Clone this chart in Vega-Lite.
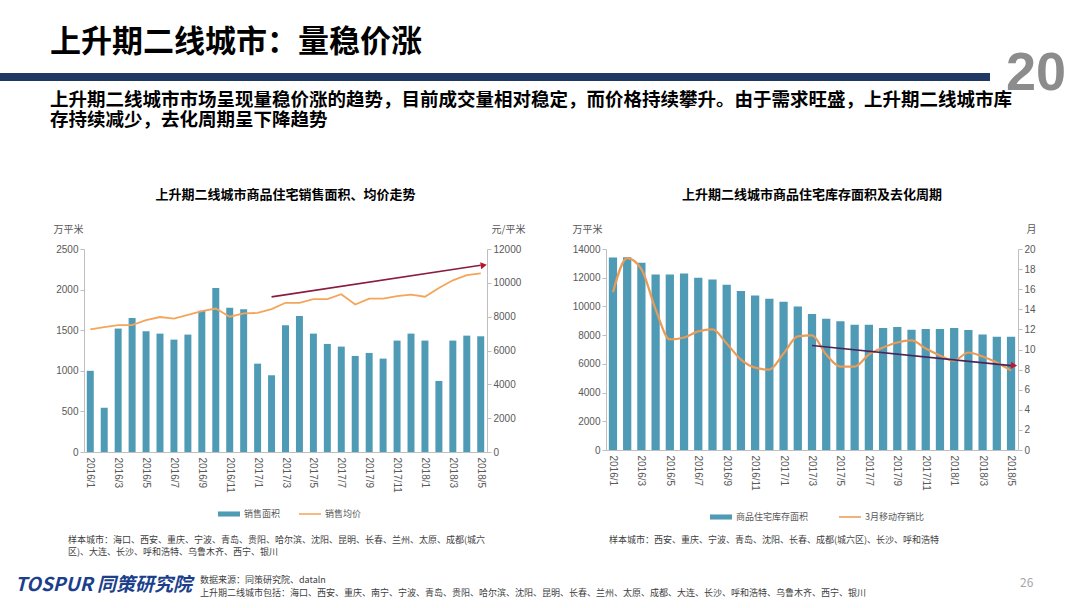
{
 "$schema": "https://vega.github.io/schema/vega-lite/v6.json",
 "background": "white",
 "padding": {"left": 0, "top": 27, "right": 0, "bottom": 0},
 "config": {
  "font": "Noto Sans CJK SC",
  "view": {"stroke": null},
  "axis": {"grid": false, "domainColor": "#bfbfbf", "tickColor": "#bfbfbf", "tickSize": 4, "labelColor": "#595959", "labelFontSize": 10, "labelFont": "Liberation Sans", "labelOverlap": false, "titleColor": "#595959", "titleFontSize": 10, "titleFontWeight": "normal", "titleFont": "Noto Sans CJK SC"},
  "legend": {"labelColor": "#595959", "labelFontSize": 9, "labelFont": "Noto Sans CJK SC"},
  "title": {"color": "#000000", "fontWeight": "bold", "font": "Noto Sans CJK SC"}
 },
 "spacing": -10,
 "vconcat": [
  {
   "spacing": 15,
   "hconcat": [
    {
     "title": {"text": "上升期二线城市：量稳价涨", "anchor": "start", "dx": 50, "fontSize": 31, "offset": 14},
     "width": 990, "height": 8,
     "view": {"fill": "#203864", "stroke": null},
     "data": {"values": []},
     "mark": "point"
    },
    {
     "title": {"text": "20", "anchor": "middle", "fontSize": 54, "fontWeight": "bold", "color": "#8c8c8c", "font": "Liberation Sans", "offset": -28},
     "width": 60, "height": 8,
     "data": {"values": []},
     "mark": "point"
    }
   ]
  },
  {
   "title": {"text": ["上升期二线城市市场呈现量稳价涨的趋势，目前成交量相对稳定，而价格持续攀升。由于需求旺盛，上升期二线城市库", "存持续减少，去化周期呈下降趋势"], "anchor": "start", "dx": 50, "fontSize": 18.5, "lineHeight": 19.5, "offset": 60},
   "spacing": 47,
   "resolve": {"scale": {"color": "independent", "x": "independent", "y": "independent"}, "legend": {"color": "independent"}},
   "hconcat": [
    {"width": 6, "height": 10, "data": {"values": []}, "mark": "point"},
    {
     "title": {"text": ["样本城市：海口、西安、重庆、宁波、青岛、贵阳、哈尔滨、沈阳、昆明、长春、兰州、太原、成都(城六", "区)、大连、长沙、呼和浩特、乌鲁木齐、西宁、银川"], "orient": "bottom", "anchor": "start", "dx": 15, "fontSize": 9, "fontWeight": "normal", "color": "#404040", "lineHeight": 12, "offset": 17},
     "resolve": {"scale": {"color": "independent"}, "legend": {"color": "independent"}},
     "vconcat": [
      {
       "title": {"text": "上升期二线城市商品住宅销售面积、均价走势", "fontSize": 13, "offset": 22},
       "width": 403, "height": 203,
       "data": {"values": [
        {"m": "2016/1", "area": 1000, "price": 7250},
        {"m": "2016/2", "area": 545, "price": 7380},
        {"m": "2016/3", "area": 1520, "price": 7500},
        {"m": "2016/4", "area": 1651, "price": 7500},
        {"m": "2016/5", "area": 1487, "price": 7800},
        {"m": "2016/6", "area": 1458, "price": 7980},
        {"m": "2016/7", "area": 1384, "price": 7880},
        {"m": "2016/8", "area": 1446, "price": 8100},
        {"m": "2016/9", "area": 1741, "price": 8330},
        {"m": "2016/10", "area": 2020, "price": 8480},
        {"m": "2016/11", "area": 1778, "price": 8000},
        {"m": "2016/12", "area": 1758, "price": 8200},
        {"m": "2017/1", "area": 1088, "price": 8220},
        {"m": "2017/2", "area": 945, "price": 8450},
        {"m": "2017/3", "area": 1561, "price": 8820},
        {"m": "2017/4", "area": 1676, "price": 8820},
        {"m": "2017/5", "area": 1458, "price": 9040},
        {"m": "2017/6", "area": 1331, "price": 9040},
        {"m": "2017/7", "area": 1298, "price": 9330},
        {"m": "2017/8", "area": 1183, "price": 8720},
        {"m": "2017/9", "area": 1220, "price": 9070},
        {"m": "2017/10", "area": 1150, "price": 9070},
        {"m": "2017/11", "area": 1372, "price": 9220},
        {"m": "2017/12", "area": 1458, "price": 9300},
        {"m": "2018/1", "area": 1372, "price": 9180},
        {"m": "2018/2", "area": 875, "price": 9700},
        {"m": "2018/3", "area": 1372, "price": 10150},
        {"m": "2018/4", "area": 1433, "price": 10450},
        {"m": "2018/5", "area": 1425, "price": 10560}
       ]},
       "encoding": {
        "x": {"field": "m", "type": "ordinal", "sort": null,
         "scale": {"domain": ["2016/1","2016/2","2016/3","2016/4","2016/5","2016/6","2016/7","2016/8","2016/9","2016/10","2016/11","2016/12","2017/1","2017/2","2017/3","2017/4","2017/5","2017/6","2017/7","2017/8","2017/9","2017/10","2017/11","2017/12","2018/1","2018/2","2018/3","2018/4","2018/5"], "paddingInner": 0.5, "paddingOuter": 0.2},
         "axis": {"title": null, "labelAngle": 90, "labelAlign": "left", "labelBaseline": "middle", "ticks": false, "labelPadding": 5,
          "values": ["2016/1","2016/3","2016/5","2016/7","2016/9","2016/11","2017/1","2017/3","2017/5","2017/7","2017/9","2017/11","2018/1","2018/3","2018/5"]}}
       },
       "layer": [
        {
         "mark": {"type": "bar"},
         "encoding": {
          "y": {"field": "area", "type": "quantitative", "scale": {"domain": [0, 2500]},
           "axis": {"values": [0, 500, 1000, 1500, 2000, 2500], "format": "d", "title": "万平米", "titleAngle": 0, "titleX": -16, "titleY": -20, "titleAlign": "center", "titleBaseline": "middle"}},
          "color": {"datum": "销售面积", "type": "nominal",
           "scale": {"domain": ["销售面积", "销售均价"], "range": ["#4f9ab5", "#f5a55a"]},
           "legend": {"title": null, "orient": "none", "legendX": 134, "legendY": 254, "direction": "horizontal", "padding": 0, "symbolSize": 484, "columnPadding": 18, "labelOffset": 4,
            "encode": {"symbols": {"update": {
             "shape": {"signal": "datum.value === '销售面积' ? 'M-1,-0.23H1V0.23H-1Z' : 'M-1,-0.07H1V0.07H-1Z'"},
             "fill": {"signal": "datum.value === '销售面积' ? '#4f9ab5' : '#f5a55a'"},
             "stroke": {"value": "transparent"}, "strokeWidth": {"value": 0}, "opacity": {"value": 1}}}}}}
         }
        },
        {
         "layer": [
          {
           "mark": {"type": "line", "strokeWidth": 1.8},
           "encoding": {
            "y": {"field": "price", "type": "quantitative", "scale": {"domain": [0, 12000]},
             "axis": {"orient": "right", "values": [0, 2000, 4000, 6000, 8000, 10000, 12000], "format": "d", "title": "元/平米", "titleAngle": 0, "titleX": 21, "titleY": -20, "titleAlign": "center", "titleBaseline": "middle"}},
            "color": {"datum": "销售均价", "type": "nominal"}
           }
          },
          {
           "data": {"values": [{"ax": "2017/2", "ay": 9172, "bx": "2018/5", "by": 11041}]},
           "mark": {"type": "rule", "color": "#8a1c40", "strokeWidth": 1.6},
           "encoding": {"x": {"field": "ax", "type": "ordinal", "sort": null}, "x2": {"field": "bx"},
            "y": {"field": "ay", "type": "quantitative", "axis": {"orient": "right", "values": [0, 2000, 4000, 6000, 8000, 10000, 12000], "format": "d", "title": "元/平米", "titleAngle": 0, "titleX": 21, "titleY": -20, "titleAlign": "center", "titleBaseline": "middle"}},
            "y2": {"field": "by"}}
          },
          {
           "data": {"values": [{"ax": "2017/2", "ay": 9172, "bx": "2018/5", "by": 11041}]},
           "mark": {"type": "point", "shape": "triangle-right", "filled": true, "color": "#b3152b", "size": 50, "angle": -8, "opacity": 1, "xOffset": 3},
           "encoding": {"x": {"field": "bx", "type": "ordinal", "sort": null},
            "y": {"field": "by", "type": "quantitative", "axis": {"orient": "right", "values": [0, 2000, 4000, 6000, 8000, 10000, 12000], "format": "d", "title": "元/平米", "titleAngle": 0, "titleX": 21, "titleY": -20, "titleAlign": "center", "titleBaseline": "middle"}}}
          }
         ]
        }
       ],
       "resolve": {"scale": {"y": "independent"}}
      }
     ]
    },
    {
     "title": {"text": "样本城市：西安、重庆、宁波、青岛、沈阳、长春、成都(城六区)、长沙、呼和浩特", "orient": "bottom", "anchor": "middle", "dx": -30, "fontSize": 9, "fontWeight": "normal", "color": "#404040", "offset": 14},
     "resolve": {"scale": {"color": "independent"}, "legend": {"color": "independent"}},
     "vconcat": [
      {
       "title": {"text": "上升期二线城市商品住宅库存面积及去化周期", "fontSize": 13, "offset": 22},
       "width": 412, "height": 201,
       "data": {"values": [
        {"m": "2016/1", "stock": 13410, "ratio": 15.7},
        {"m": "2016/2", "stock": 13420, "ratio": 19.1},
        {"m": "2016/3", "stock": 13040, "ratio": 18.0},
        {"m": "2016/4", "stock": 12220, "ratio": 14.0},
        {"m": "2016/5", "stock": 12220, "ratio": 11.0},
        {"m": "2016/6", "stock": 12290, "ratio": 11.2},
        {"m": "2016/7", "stock": 11990, "ratio": 11.8},
        {"m": "2016/8", "stock": 11880, "ratio": 12.0},
        {"m": "2016/9", "stock": 11510, "ratio": 10.6},
        {"m": "2016/10", "stock": 11080, "ratio": 9.0},
        {"m": "2016/11", "stock": 10760, "ratio": 8.2},
        {"m": "2016/12", "stock": 10530, "ratio": 8.0},
        {"m": "2017/1", "stock": 10330, "ratio": 9.6},
        {"m": "2017/2", "stock": 10000, "ratio": 11.3},
        {"m": "2017/3", "stock": 9480, "ratio": 11.4},
        {"m": "2017/4", "stock": 9140, "ratio": 9.5},
        {"m": "2017/5", "stock": 8960, "ratio": 8.3},
        {"m": "2017/6", "stock": 8730, "ratio": 8.3},
        {"m": "2017/7", "stock": 8730, "ratio": 9.5},
        {"m": "2017/8", "stock": 8500, "ratio": 10.2},
        {"m": "2017/9", "stock": 8570, "ratio": 10.7},
        {"m": "2017/10", "stock": 8380, "ratio": 10.9},
        {"m": "2017/11", "stock": 8430, "ratio": 10.1},
        {"m": "2017/12", "stock": 8430, "ratio": 9.4},
        {"m": "2018/1", "stock": 8500, "ratio": 8.9},
        {"m": "2018/2", "stock": 8360, "ratio": 9.7},
        {"m": "2018/3", "stock": 8040, "ratio": 9.3},
        {"m": "2018/4", "stock": 7880, "ratio": 8.7},
        {"m": "2018/5", "stock": 7880, "ratio": 7.9}
       ]},
       "encoding": {
        "x": {"field": "m", "type": "ordinal", "sort": null,
         "scale": {"domain": ["2016/1","2016/2","2016/3","2016/4","2016/5","2016/6","2016/7","2016/8","2016/9","2016/10","2016/11","2016/12","2017/1","2017/2","2017/3","2017/4","2017/5","2017/6","2017/7","2017/8","2017/9","2017/10","2017/11","2017/12","2018/1","2018/2","2018/3","2018/4","2018/5"], "paddingInner": 0.42, "paddingOuter": 0.2},
         "axis": {"title": null, "labelAngle": 90, "labelAlign": "left", "labelBaseline": "middle", "ticks": false, "labelPadding": 5,
          "values": ["2016/1","2016/3","2016/5","2016/7","2016/9","2016/11","2017/1","2017/3","2017/5","2017/7","2017/9","2017/11","2018/1","2018/3","2018/5"]}}
       },
       "layer": [
        {
         "mark": {"type": "bar"},
         "encoding": {
          "y": {"field": "stock", "type": "quantitative", "scale": {"domain": [0, 14000]},
           "axis": {"values": [0, 2000, 4000, 6000, 8000, 10000, 12000, 14000], "format": "d", "title": "万平米", "titleAngle": 0, "titleX": -19, "titleY": -20, "titleAlign": "center", "titleBaseline": "middle"}},
          "color": {"datum": "商品住宅库存面积", "type": "nominal",
           "scale": {"domain": ["商品住宅库存面积", "3月移动存销比"], "range": ["#4f9ab5", "#e99b58"]},
           "legend": {"title": null, "orient": "none", "legendX": 104, "legendY": 257, "direction": "horizontal", "padding": 0, "symbolSize": 484, "columnPadding": 30, "labelOffset": 4,
            "encode": {"symbols": {"update": {
             "shape": {"signal": "datum.value === '商品住宅库存面积' ? 'M-1,-0.23H1V0.23H-1Z' : 'M-1,-0.07H1V0.07H-1Z'"},
             "fill": {"signal": "datum.value === '商品住宅库存面积' ? '#4f9ab5' : '#e99b58'"},
             "stroke": {"value": "transparent"}, "strokeWidth": {"value": 0}, "opacity": {"value": 1}}}}}}
         }
        },
        {
         "layer": [
          {
           "mark": {"type": "line", "strokeWidth": 2.2, "interpolate": "monotone"},
           "encoding": {
            "y": {"field": "ratio", "type": "quantitative", "scale": {"domain": [0, 20]},
             "axis": {"orient": "right", "values": [0, 2, 4, 6, 8, 10, 12, 14, 16, 18, 20], "title": "月", "titleAngle": 0, "titleX": 13, "titleY": -20, "titleAlign": "center", "titleBaseline": "middle"}},
            "color": {"datum": "3月移动存销比", "type": "nominal"}
           }
          },
          {
           "data": {"values": [{"ax": "2017/3", "ay": 10.4, "bx": "2018/5", "by": 8.4}]},
           "mark": {"type": "rule", "color": "#4a2358", "strokeWidth": 1.6},
           "encoding": {"x": {"field": "ax", "type": "ordinal", "sort": null}, "x2": {"field": "bx"},
            "y": {"field": "ay", "type": "quantitative", "axis": {"orient": "right", "values": [0, 2, 4, 6, 8, 10, 12, 14, 16, 18, 20], "title": "月", "titleAngle": 0, "titleX": 13, "titleY": -20, "titleAlign": "center", "titleBaseline": "middle"}},
            "y2": {"field": "by"}}
          },
          {
           "data": {"values": [{"ax": "2017/3", "ay": 10.4, "bx": "2018/5", "by": 8.4}]},
           "mark": {"type": "point", "shape": "triangle-right", "filled": true, "color": "#c0182a", "size": 50, "angle": 5, "opacity": 1, "xOffset": 3},
           "encoding": {"x": {"field": "bx", "type": "ordinal", "sort": null},
            "y": {"field": "by", "type": "quantitative", "axis": {"orient": "right", "values": [0, 2, 4, 6, 8, 10, 12, 14, 16, 18, 20], "title": "月", "titleAngle": 0, "titleX": 13, "titleY": -20, "titleAlign": "center", "titleBaseline": "middle"}}}
          }
         ]
        }
       ],
       "resolve": {"scale": {"y": "independent"}}
      }
     ]
    }
   ]
  },
  {
   "spacing": 0,
   "hconcat": [
    {"title": {"text": "TOSPUR 同策研究院", "orient": "bottom", "anchor": "start", "dx": 15, "fontSize": 19, "fontStyle": "italic", "color": "#1b3f8b", "offset": 18}, "width": 200, "height": 1, "data": {"values": []}, "mark": "point"},
    {"title": {"text": ["数据来源：同策研究院、dataln", "上升期二线城市包括：海口、西安、重庆、南宁、宁波、青岛、贵阳、哈尔滨、沈阳、昆明、长春、兰州、太原、成都、大连、长沙、呼和浩特、乌鲁木齐、西宁、银川"], "orient": "bottom", "anchor": "start", "fontSize": 9, "fontWeight": "normal", "color": "#404040", "lineHeight": 13, "offset": 18},
     "width": 820, "height": 1, "data": {"values": []}, "mark": "point"},
    {"title": {"text": "26", "orient": "bottom", "anchor": "start", "fontSize": 12, "fontWeight": "normal", "color": "#a6a6a6", "offset": 20}, "width": 60, "height": 1, "data": {"values": []}, "mark": "point"}
   ]
  }
 ]
}
